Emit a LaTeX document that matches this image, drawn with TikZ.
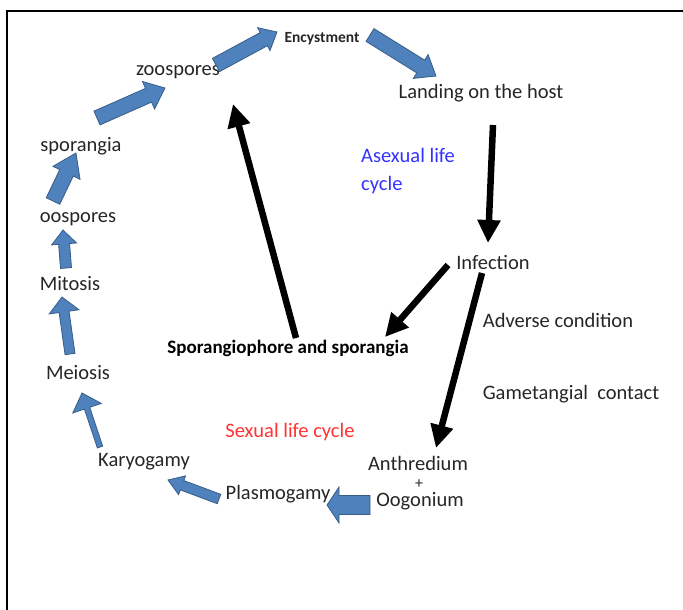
\documentclass[tikz,border=0pt]{standalone}
\usepackage{fontspec}
\setmainfont{Carlito}
\usetikzlibrary{arrows.meta,calc}
\definecolor{bfill}{HTML}{4F81BD}
\definecolor{bline}{HTML}{385D8A}
\definecolor{txt}{HTML}{262626}
\definecolor{asex}{HTML}{3333FF}
\definecolor{sexc}{HTML}{FF3333}
\tikzset{
  lbl/.style={inner sep=0pt, font=\fontsize{20.5}{24}\selectfont, text=txt},
  blk/.style={-{Triangle[length=23pt,width=22pt]}, line width=6.5pt, black},
  barrowstyle/.style={fill=bfill, draw=bline, line width=0.8pt, line join=miter},
}
\newcommand\barrow[5]{%
  \coordinate (bC) at ($(#2)!#5!(#1)$);
  \draw[barrowstyle] ($(#1)!#3!90:(#2)$) -- ($(bC)!#3!90:(#2)$) -- ($(bC)!#4!90:(#2)$) -- (#2)
    -- ($(bC)!#4!-90:(#2)$) -- ($(bC)!#3!-90:(#2)$) -- ($(#1)!#3!-90:(#2)$) -- cycle;
}
\begin{document}
\begin{tikzpicture}[x=1pt,y=-1pt]
\useasboundingbox (0,0) rectangle (683,610);
% frame
\draw[line width=1.6pt] (7,612) -- (7,11) -- (685,11);

% text nodes
\node[lbl, font=\fontsize{15.5}{18}\bfseries] (enc) at (322,39) {Encystment};
\node[lbl] (zoo) at (178,72) {zoospores};
\node[lbl] (land) at (481,93) {Landing on the host};
\node[lbl] (spg) at (81,146) {sporangia};
\node[lbl, text=asex, align=left, anchor=west, font=\fontsize{20.5}{28}\selectfont] (asx) at (361,171) {Asexual life\\cycle};
\node[lbl] (oos) at (78,219) {oospores};
\node[lbl] (inf) at (493,262) {Infection};
\node[lbl] (mit) at (70,284) {Mitosis};
\node[lbl] (adv) at (558,320) {Adverse condition};
\node[lbl, font=\fontsize{19}{22}\bfseries, text=black] (sph) at (288,348) {Sporangiophore and sporangia};
\node[lbl] (mei) at (78,373) {Meiosis};
\node[lbl] (gam) at (571,394) {Gametangial\ \ contact};
\node[lbl, text=sexc] (sex) at (290,432) {Sexual life cycle};
\node[lbl] (kar) at (144,462) {Karyogamy};
\node[lbl] (anth) at (418,463) {Anthredium};
\node[lbl, font=\fontsize{16}{18}\selectfont] (plus) at (419,484) {+};
\node[lbl] (oog) at (420,501) {Oogonium};
\node[lbl] (pla) at (278,494) {Plasmogamy};

% black arrows
\coordinate (a1s) at (296,338); \coordinate (a1e) at (233,104);
\coordinate (a2s) at (493,125); \coordinate (a2e) at (488,243);
\coordinate (a3s) at (448,265); \coordinate (a3e) at (385,337);
\coordinate (a4s) at (482,273); \coordinate (a4e) at (436,448);
\draw[blk] (a1s) -- (a1e);
\draw[blk] (a2s) -- (a2e);
\draw[blk] (a3s) -- (a3e);
\draw[blk] (a4s) -- (a4e);

% blue block arrows
\coordinate (b1s) at (100,447); \coordinate (b1e) at (82,393);
\coordinate (b2s) at (70,354);  \coordinate (b2e) at (62,297);
\coordinate (b3s) at (66,268);  \coordinate (b3e) at (63,230);
\coordinate (b4s) at (53,201);  \coordinate (b4e) at (76,153);
\coordinate (b5s) at (97,118);  \coordinate (b5e) at (165,88);
\coordinate (b6s) at (216,65);  \coordinate (b6e) at (277,32);
\coordinate (b7s) at (370,35);  \coordinate (b7e) at (436,76);
\coordinate (b8s) at (219,499); \coordinate (b8e) at (168,480);
\coordinate (b9s) at (370,505); \coordinate (b9e) at (327,505);
\barrow{b1s}{b1e}{2.8pt}{15pt}{16pt}
\barrow{b2s}{b2e}{5pt}{15pt}{15pt}
\barrow{b3s}{b3e}{5.5pt}{12.5pt}{14pt}
\barrow{b4s}{b4e}{7.5pt}{15pt}{22pt}
\barrow{b5s}{b5e}{7.5pt}{15pt}{18pt}
\barrow{b6s}{b6e}{7.5pt}{13pt}{15pt}
\barrow{b7s}{b7e}{7.5pt}{14pt}{18pt}
\barrow{b8s}{b8e}{5pt}{10pt}{15pt}
\barrow{b9s}{b9e}{9.5pt}{18pt}{12pt}
\end{tikzpicture}
\end{document}
